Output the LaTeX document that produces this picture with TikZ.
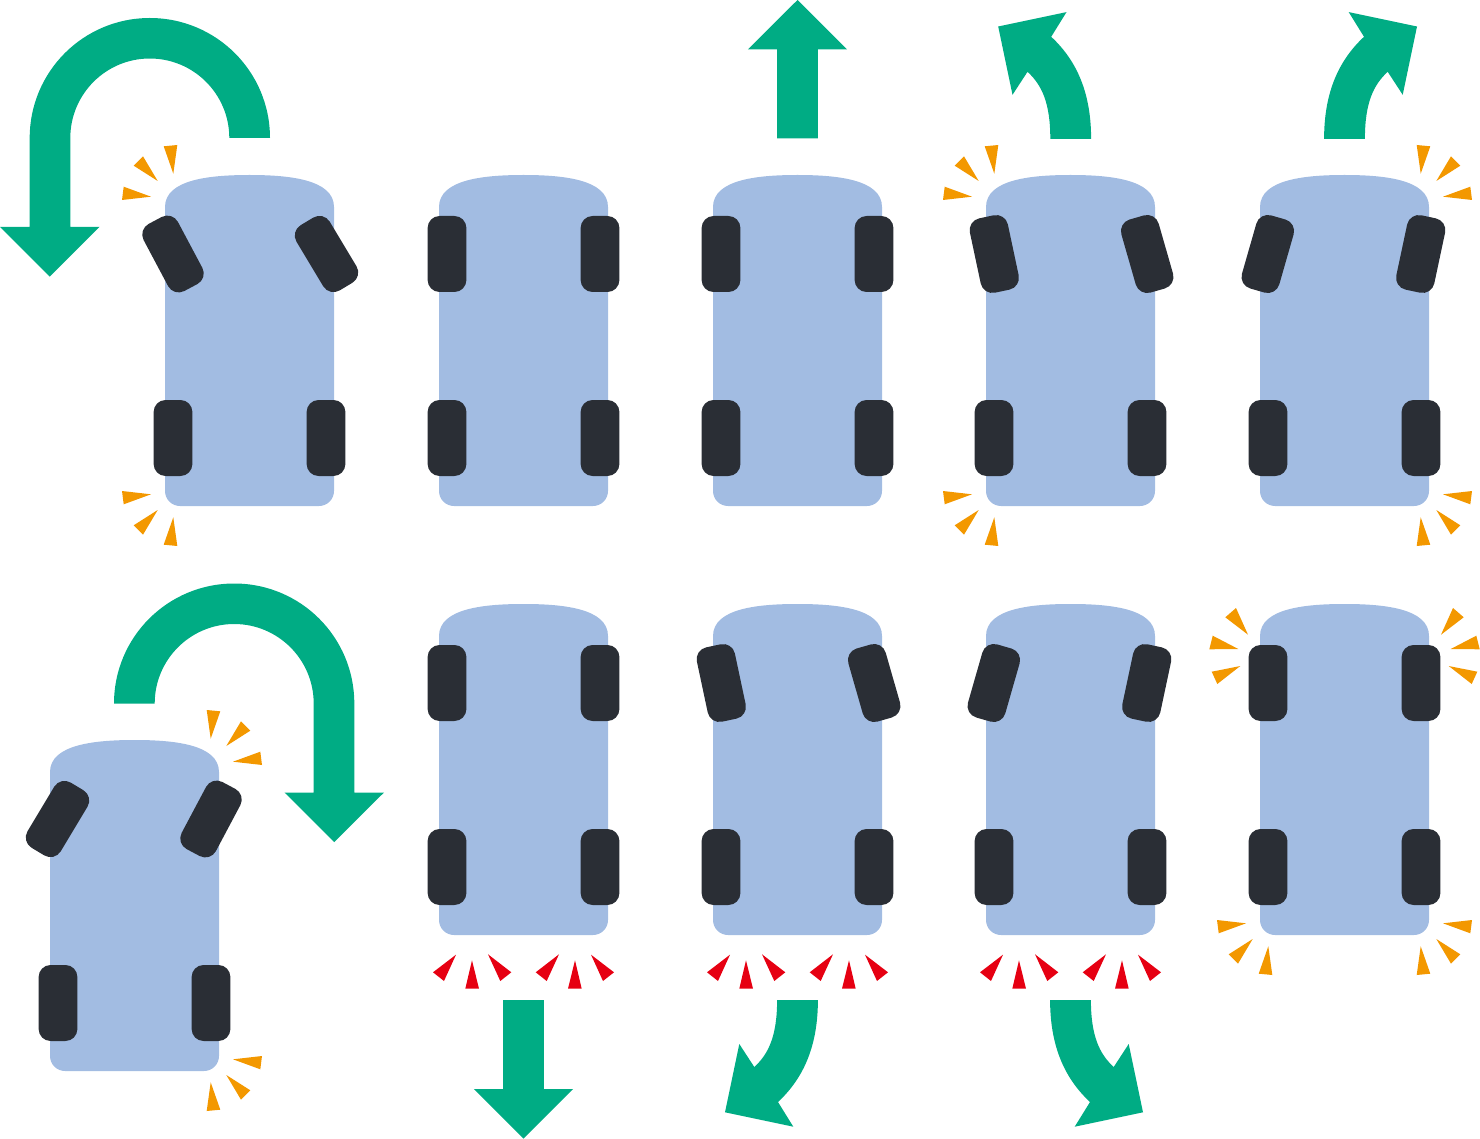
\documentclass[tikz,border=0pt]{standalone}
\definecolor{arrowgreen}{HTML}{00AC84}
\definecolor{sparkorange}{HTML}{F39800}
\definecolor{sparkred}{HTML}{E60012}
\definecolor{carblue}{HTML}{A2BCE2}
\definecolor{wheeldark}{HTML}{2A2E35}
\tikzset{
  wheelbox/.style={fill=wheeldark,draw=none},
  carbody/.style={fill=carblue,draw=none},
  greenarrow/.style={fill=arrowgreen,draw=none},
  orangespark/.style={fill=sparkorange,draw=none},
  redspark/.style={fill=sparkred,draw=none}
}
% x, y, angle
\newcommand{\drawwheel}[3]{%
  \begin{scope}[shift={(#1,#2)},rotate=#3]
    \fill[wheelbox] (-19.4,-26) .. controls (-19.4,-32.63) and (-14.03,-38) .. (-7.4,-38) -- (7.4,-38)
      .. controls (14.03,-38) and (19.4,-32.63) .. (19.4,-26) -- (19.4,26)
      .. controls (19.4,32.63) and (14.03,38) .. (7.4,38) -- (-7.4,38)
      .. controls (-14.03,38) and (-19.4,32.63) .. (-19.4,26) -- cycle;
  \end{scope}}
% centre x, top y, front-left x offset, angle, front-right x offset, angle
\newcommand{\drawcar}[6]{%
  \begin{scope}[shift={(#1,#2)}]
    \fill[carbody] (-84.5,32) .. controls (-84.5,4) and (-38,0) .. (0,0)
      .. controls (38,0) and (84.5,4) .. (84.5,32) -- (84.5,316)
      .. controls (84.5,324.3) and (77.8,331) .. (69.5,331) -- (-69.5,331)
      .. controls (-77.8,331) and (-84.5,324.3) .. (-84.5,316) -- cycle;
    \drawwheel{#3}{79}{#4}
    \drawwheel{#5}{79}{#6}
    \drawwheel{-76.5}{263}{0}
    \drawwheel{76.5}{263}{0}
  \end{scope}}
% three orange sparks at a corner: cx, cy, xscale, yscale
\newcommand{\cornerspark}[4]{%
  \begin{scope}[shift={(#1,#2)},xscale=#3,yscale=#4]
    \fill[orangespark] (-85.8,-199.2) -- (-72.2,-200.5) -- (-76.2,-171.8) -- cycle;
    \fill[orangespark] (-106.5,-189.2) -- (-115.8,-179.8) -- (-91.8,-164.5) -- cycle;
    \fill[orangespark] (-125.8,-158.8) -- (-127.5,-145.5) -- (-98.5,-148.8) -- cycle;
  \end{scope}}
% three orange sparks next to a front wheel: cx, xscale
\newcommand{\sidespark}[2]{%
  \begin{scope}[shift={(#1,604)},xscale=#2]
    \fill[orangespark] (-108.5,4) -- (-119.2,13.3) -- (-96.5,30.7) -- cycle;
    \fill[orangespark] (-131.8,31.7) -- (-135.2,45.3) -- (-106.2,45) -- cycle;
    \fill[orangespark] (-132.8,67.7) -- (-127.2,80) -- (-104.2,62) -- cycle;
  \end{scope}}
% red sparks under a car: cx
\newcommand{\redgroup}[1]{%
  \fill[redspark] (-67.5,954.7) -- (-90.5,972.3) -- (-79.5,981) -- cycle;
  \fill[redspark] (-51.5,960.3) -- (-58.2,988.7) -- (-44.5,988.7) -- cycle;
  \fill[redspark] (-35.5,954.3) -- (-23.2,981) -- (-12.2,972.3) -- cycle;}
\newcommand{\redspark}[1]{%
  \begin{scope}[xshift=#1pt]\redgroup{}\end{scope}
  \begin{scope}[xshift=#1pt,xscale=-1]\redgroup{}\end{scope}}
% U-turn arrow in the coordinates of the upper left one
\newcommand{\uturnpath}{%
  \fill[greenarrow] (270,138) .. controls (270,71.6) and (216.2,18) .. (149.8,18)
    .. controls (83.4,18) and (29.7,71.6) .. (29.7,138) -- (29.7,227) -- (0,227)
    -- (49.8,276.6) -- (99.5,227) -- (70.3,227) -- (70.3,138)
    .. controls (70.3,94.1) and (105.9,58.5) .. (149.8,58.5)
    .. controls (193.7,58.5) and (229.3,94.1) .. (229.3,138) -- cycle;}
% curved arrow with its tail centre at the origin
\newcommand{\bentpath}{%
  \fill[greenarrow] (-20.4,0) -- (20.4,0) .. controls (20.4,42) and (8.5,76) .. (-19.5,102)
    -- (-4.2,126.7) -- (-72.5,112.3) -- (-58.2,44) -- (-43.2,67)
    .. controls (-29,54) and (-20.4,36) .. (-20.4,0) -- cycle;}
% straight arrow pointing along +y from the origin
\newcommand{\straightpath}{%
  \fill[greenarrow] (-20.4,0) -- (20.4,0) -- (20.4,89) -- (49.6,89) -- (0,138.5)
    -- (-49.6,89) -- (-20.4,89) -- cycle;}
\begin{document}
\begin{tikzpicture}[x=1pt,y=-1pt]
  \useasboundingbox (0,0) rectangle (1480,1139);
  % cars, first row
  \drawcar{249.5}{175}{-76.5}{28}{77}{31}
  \drawcar{523.5}{175}{-76.5}{0}{76.5}{0}
  \drawcar{797.5}{175}{-76.5}{0}{76.5}{0}
  \drawcar{1070.5}{175}{-76.2}{12}{76.7}{16}
  \drawcar{1344.5}{175}{-76.7}{-16}{76.2}{-12}
  % cars, second row
  \drawcar{134.5}{740}{-77}{-31}{76.5}{-28}
  \drawcar{523.5}{604}{-76.5}{0}{76.5}{0}
  \drawcar{797.5}{604}{-76.2}{12}{76.7}{16}
  \drawcar{1070.5}{604}{-76.7}{-16}{76.2}{-12}
  \drawcar{1344.5}{604}{-76.5}{0}{76.5}{0}
  % orange sparks
  \cornerspark{249.5}{345.5}{1}{1}
  \cornerspark{249.5}{345.5}{1}{-1}
  \cornerspark{1070.5}{345.5}{1}{1}
  \cornerspark{1070.5}{345.5}{1}{-1}
  \cornerspark{1344.5}{345.5}{-1}{1}
  \cornerspark{1344.5}{345.5}{-1}{-1}
  \cornerspark{134.5}{910.5}{-1}{1}
  \cornerspark{134.5}{910.5}{-1}{-1}
  \cornerspark{1344.5}{774.5}{1}{-1}
  \cornerspark{1344.5}{774.5}{-1}{-1}
  \sidespark{1344.5}{1}
  \sidespark{1344.5}{-1}
  % red sparks
  \redspark{523.5}
  \redspark{797.5}
  \redspark{1070.5}
  % green arrows
  \uturnpath
  \begin{scope}[shift={(384,565.5)},xscale=-1]\uturnpath\end{scope}
  \begin{scope}[shift={(797.5,138.5)},yscale=-1]\straightpath\end{scope}
  \begin{scope}[shift={(523.5,1000)}]\straightpath\end{scope}
  \begin{scope}[shift={(797.5,1000)}]\bentpath\end{scope}
  \begin{scope}[shift={(1070.5,1000)},xscale=-1]\bentpath\end{scope}
  \begin{scope}[shift={(1070.7,138.8)},yscale=-1]\bentpath\end{scope}
  \begin{scope}[shift={(1344.5,138.8)},xscale=-1,yscale=-1]\bentpath\end{scope}
\end{tikzpicture}
\end{document}
